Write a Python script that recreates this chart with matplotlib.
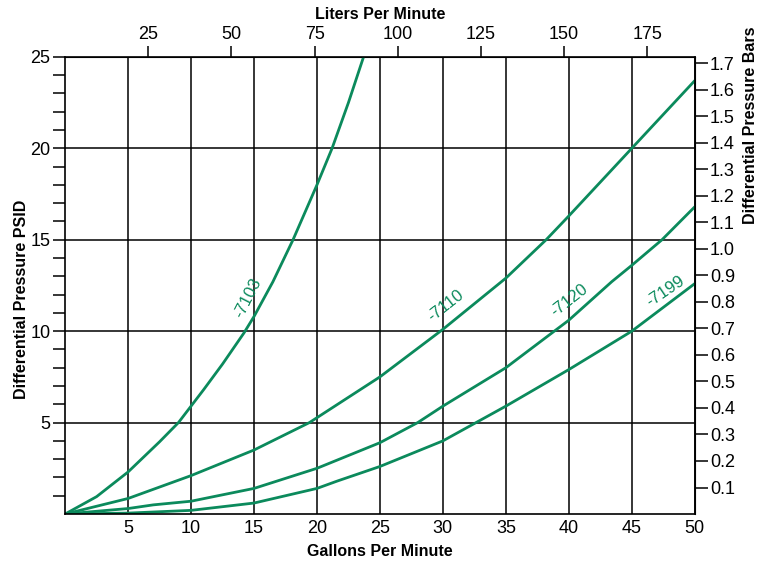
import numpy as np
import matplotlib
matplotlib.use("Agg")
import matplotlib.pyplot as plt

plt.rcParams['font.family'] = ['Liberation Sans', 'DejaVu Sans']

GREEN = '#0b8a5c'

# flow (gpm) vs differential pressure (psid)
gpm_7103 = [0, 2.5, 5, 7.5, 9, 10, 11, 12.5, 14.2, 15, 16.5, 18.1, 20, 21.2, 22.5, 23.7]
psi_7103 = [0, 0.95, 2.3, 3.95, 5.0, 5.9, 6.8, 8.2, 9.9, 10.8, 12.7, 15.0, 18.0, 20.0, 22.5, 25.0]

gpm_7110 = [0, 5, 10, 15, 19.4, 25, 30, 35, 38.2, 40, 45, 50]
psi_7110 = [0, 0.85, 2.1, 3.5, 5.0, 7.5, 10.1, 12.9, 15.0, 16.3, 20.0, 23.7]

gpm_7120 = [0, 5, 7, 10, 15, 20, 25, 28, 30, 35, 40, 43.4, 45, 47.4, 50]
psi_7120 = [0, 0.3, 0.5, 0.7, 1.4, 2.5, 3.9, 5.0, 5.9, 8.0, 10.6, 12.7, 13.6, 15.0, 16.8]

gpm_7199 = [0, 5, 10, 15, 20, 21.6, 25, 30, 35, 40, 45, 50]
psi_7199 = [0, 0.05, 0.2, 0.6, 1.4, 1.8, 2.6, 4.0, 5.9, 7.9, 10.0, 12.6]

# curve labels: text, x, y, rotation
labels = [("-7103", 14.5, 11.8, 63),
          ("-7110", 30.2, 11.4, 38),
          ("-7120", 40.0, 11.7, 38),
          ("-7199", 47.7, 12.2, 34)]

fig = plt.figure(figsize=(7.66, 5.63), dpi=100)
ax = fig.add_axes([0.085, 0.087, 0.822, 0.812])

for gx, py in [(gpm_7103, psi_7103), (gpm_7110, psi_7110),
               (gpm_7120, psi_7120), (gpm_7199, psi_7199)]:
    ax.plot(gx, py, color=GREEN, lw=2, solid_capstyle='round', solid_joinstyle='round')

for txt, x, y, rot in labels:
    ax.text(x, y, txt, color=GREEN, fontsize=12, rotation=rot,
            ha='center', va='center', rotation_mode='anchor')

ax.set_xlim(0, 50)
ax.set_ylim(0, 25)

ax.set_xticks(range(5, 51, 5))
ax.set_yticks(range(5, 26, 5))
ax.set_yticks(range(1, 25), minor=True)
ax.grid(True, which='major', color='black', lw=1.1)
ax.tick_params(axis='x', length=0, pad=4, labelsize=13)
ax.tick_params(axis='y', which='both', length=8.5, width=1.1, labelsize=13, pad=2)
for s in ax.spines.values():
    s.set_linewidth(1.2)

ax.set_xlabel("Gallons Per Minute", fontsize=11.5, fontweight='bold', labelpad=5)
ax.set_ylabel("Differential Pressure PSID", fontsize=11.5, fontweight='bold',
              labelpad=1, y=0.47)

top = ax.secondary_xaxis('top', functions=(lambda g: g * 3.785, lambda l: l / 3.785))
top.set_xticks(range(25, 176, 25))
top.tick_params(length=8, width=1.1, labelsize=13, pad=2)
top.set_xlabel("Liters Per Minute", fontsize=11.5, fontweight='bold', labelpad=5)

right = ax.secondary_yaxis('right', functions=(lambda p: p / 14.5, lambda b: b * 14.5))
right.set_yticks(np.round(np.arange(0.1, 1.75, 0.1), 1))
right.tick_params(length=9, width=1.1, labelsize=13, pad=2)
right.set_ylabel("Differential Pressure Bars", fontsize=11.5, fontweight='bold',
                 labelpad=6, y=0.85)

fig.savefig("out.png", dpi=100)
